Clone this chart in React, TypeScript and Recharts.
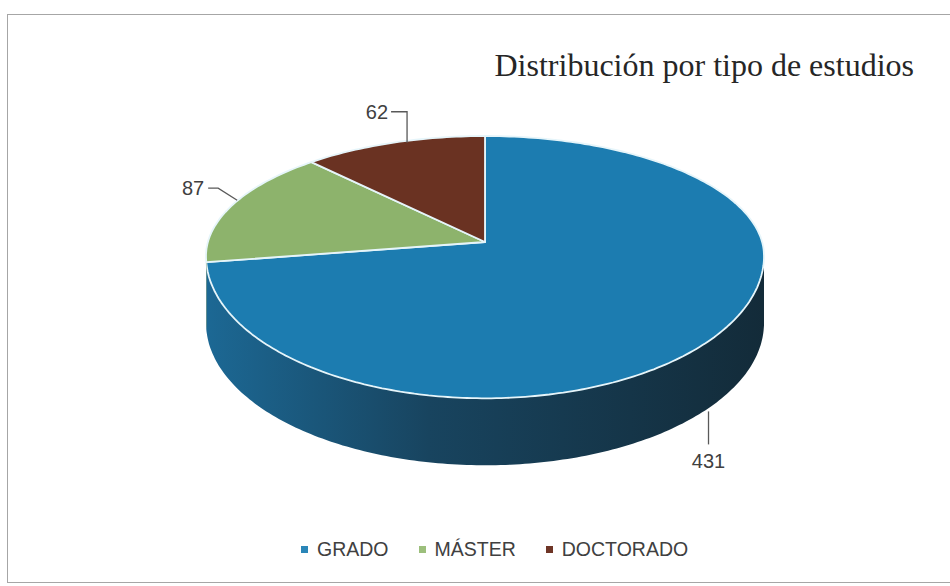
import { PieChart, Pie, Cell, Legend } from "recharts";

// Distribución por tipo de estudios — 3D-looking pie built on Recharts angles
const categories = ["GRADO", "MÁSTER", "DOCTORADO"];
const counts = [431, 87, 62];
const topColors = ["#1c7cb0", "#8db36c", "#6a3222"];
const legendColors = ["#2a86b8", "#9cbf7c", "#6e3526"];

const data = categories.map((name, i) => ({ name, value: counts[i] }));

// tilt / depth of the fake 3D pie
const BACK_RATIO = 0.43; // upper half of the ellipse
const FRONT_RATIO = 0.51; // lower half (closer to the viewer)
const DROP = 14; // ellipse centre sits a bit below the apex
const DEPTH = 67;

const sans = "'Liberation Sans', Arial, sans-serif";

function rimPoint(cx: number, cy: number, r: number, deg: number) {
  const a = (deg * Math.PI) / 180;
  const s = Math.sin(a);
  const ry = r * (s > 0 ? BACK_RATIO : FRONT_RATIO);
  return [cx + r * Math.cos(a), cy + DROP - ry * s];
}

function arc(cx: number, cy: number, r: number, from: number, to: number) {
  const pts: number[][] = [];
  const n = Math.max(2, Math.ceil(Math.abs(to - from)));
  for (let i = 0; i <= n; i++) pts.push(rimPoint(cx, cy, r, from + ((to - from) * i) / n));
  return pts;
}

const toPath = (pts: number[][]) => pts.map((p) => `${p[0].toFixed(1)},${p[1].toFixed(1)}`).join(" L");

function Slice3D(props: any) {
  const { cx, cy, outerRadius, startAngle, endAngle, fill } = props;
  const idx = categories.indexOf(props.name ?? props.payload?.name);
  const lo = Math.min(startAngle, endAngle);
  const hi = Math.max(startAngle, endAngle);

  // outer wall only where the rim faces the viewer
  const walls: string[] = [];
  for (const [L, H] of [[-180, 0], [180, 360], [-540, -360]]) {
    const a = Math.max(lo, L);
    const b = Math.min(hi, H);
    if (b - a > 0.01) {
      const top = arc(cx, cy, outerRadius, a, b);
      const bottom = top.map((p) => [p[0], p[1] + DEPTH]).reverse();
      walls.push(`M${toPath(top)} L${toPath(bottom)} Z`);
    }
  }
  const face = `M${cx},${cy} L${toPath(arc(cx, cy, outerRadius, startAngle, endAngle))} Z`;
  const wallFill = idx === 0 ? "url(#gradoSide)" : idx === 1 ? "#5f7d45" : "#4a2217";

  return (
    <g>
      {walls.map((d, i) => (
        <path key={i} d={d} fill={wallFill} stroke="none" />
      ))}
      <path d={face} fill={fill} stroke="#e6f5fa" strokeWidth={1.8} strokeLinejoin="round" />
    </g>
  );
}

function renderLabel(props: any) {
  const { cx, cy, midAngle, outerRadius, value, index } = props;
  const [x, y] = rimPoint(cx, cy, outerRadius, midAngle);
  const line = { stroke: "#595959", strokeWidth: 1.3, fill: "none" };
  const text = { fill: "#404040", fontSize: 20, fontFamily: sans };
  if (index === 0) {
    const xb = x + 22;
    const yb = y + DEPTH - 10;
    return (
      <g>
        <polyline points={`${xb},${yb} ${xb},${yb + 33}`} {...line} />
        <text x={xb} y={yb + 57} textAnchor="middle" {...text}>{value}</text>
      </g>
    );
  }
  if (index === 1) {
    return (
      <g>
        <polyline points={`${x + 6},${y - 6} ${x - 13},${y - 18} ${x - 23},${y - 18}`} {...line} />
        <text x={x - 27} y={y - 11} textAnchor="end" {...text}>{value}</text>
      </g>
    );
  }
  return (
    <g>
      <polyline points={`${x + 14},${y} ${x + 14},${y - 31} ${x - 2},${y - 31}`} {...line} />
      <text x={x - 5} y={y - 24} textAnchor="end" {...text}>{value}</text>
    </g>
  );
}

function LegendRow({ payload }: any) {
  const items = [...(payload ?? [])].sort(
    (a: any, b: any) => categories.indexOf(a.value) - categories.indexOf(b.value)
  );
  return (
    <div style={{ display: "flex", alignItems: "center", fontFamily: sans, fontSize: 19.5, color: "#404040" }}>
      {items.map((p: any) => (
        <div key={p.value} style={{ display: "flex", alignItems: "center", marginRight: 30 }}>
          <span
            style={{
              width: 7,
              height: 7,
              background: legendColors[categories.indexOf(p.value)],
              marginRight: 9,
              display: "inline-block",
            }}
          />
          <span>{p.value}</span>
        </div>
      ))}
    </div>
  );
}

export default function App() {
  return (
    <div style={{ position: "absolute", left: 0, top: 0, width: 950, height: 586, overflow: "hidden", background: "#fff" }}>
      <div
        style={{
          position: "absolute",
          left: 7,
          top: 14,
          width: 980,
          height: 567,
          border: "1.5px solid #a6a6a6",
        }}
      />
      <div
        style={{
          position: "absolute",
          right: 36,
          top: 47,
          fontFamily: "'Liberation Serif', 'Times New Roman', serif",
          fontSize: 32,
          color: "#262626",
          whiteSpace: "nowrap",
        }}
      >
        Distribución por tipo de estudios
      </div>
      <div style={{ position: "absolute", left: 0, top: 0 }}>
        <PieChart width={950} height={586}>
          <defs>
            <linearGradient id="gradoSide" x1="0" y1="0" x2="1" y2="0">
              <stop offset="0%" stopColor="#1c6894" />
              <stop offset="40%" stopColor="#18445f" />
              <stop offset="100%" stopColor="#132b39" />
            </linearGradient>
          </defs>
          <Pie
            data={data}
            dataKey="value"
            nameKey="name"
            cx={480}
            cy={237}
            outerRadius={279}
            startAngle={90}
            endAngle={-270}
            stroke="none"
            shape={Slice3D}
            labelLine={false}
            label={renderLabel}
            isAnimationActive={false}
          >
            {data.map((d, i) => (
              <Cell key={d.name} fill={topColors[i]} />
            ))}
          </Pie>
          <Legend
            content={<LegendRow />}
            wrapperStyle={{ position: "absolute", left: 301, top: 538, width: "auto" }}
          />
        </PieChart>
      </div>
    </div>
  );
}
